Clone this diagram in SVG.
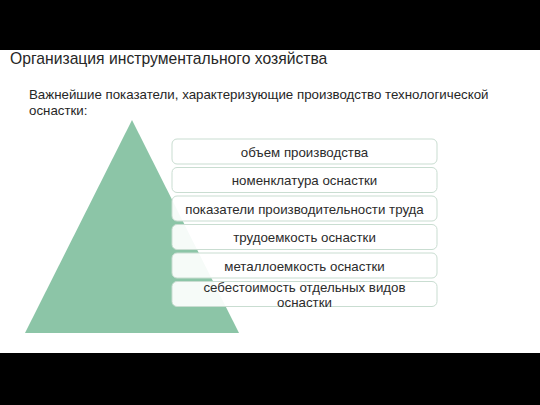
<svg xmlns="http://www.w3.org/2000/svg" width="540" height="405" viewBox="0 0 540 405">
<style>
.t{font-family:"Liberation Sans",Arial,sans-serif;fill:#262626}
.bar rect{fill:#ffffff;fill-opacity:0.92;stroke:#c9ddd1;stroke-width:1}
.bar text{font-family:"Liberation Sans",Arial,sans-serif;font-size:13.3px;fill:#2b2b2b;text-anchor:middle}
</style>
<rect x="0" y="0" width="540" height="405" fill="#ffffff"/>
<rect x="0" y="0" width="540" height="50" fill="#000000"/>
<rect x="0" y="353" width="540" height="52" fill="#000000"/>
<text class="t" x="10" y="64" font-size="15.7">Организация инструментального хозяйства</text>
<text class="t" x="29" y="99" font-size="13.3">Важнейшие показатели, характеризующие производство технологической</text>
<text class="t" x="29" y="115" font-size="13.3">оснастки:</text>
<g id="pyramid"><polygon points="132,120 239,333 25,333" fill="#8cc5a7"/></g>
<g id="bar1" class="bar"><rect x="172" y="139" width="265" height="25" rx="5"/><text x="304.5" y="156.5">объем производства</text></g>
<g id="bar2" class="bar"><rect x="172" y="167.5" width="265" height="25" rx="5"/><text x="304.5" y="185">номенклатура оснастки</text></g>
<g id="bar3" class="bar"><rect x="172" y="196" width="265" height="25" rx="5"/><text x="304.5" y="213.5">показатели производительности труда</text></g>
<g id="bar4" class="bar"><rect x="172" y="224.5" width="265" height="25" rx="5"/><text x="304.5" y="242">трудоемкость оснастки</text></g>
<g id="bar5" class="bar"><rect x="172" y="253" width="265" height="25" rx="5"/><text x="304.5" y="270.5">металлоемкость оснастки</text></g>
<g id="bar6" class="bar"><rect x="172" y="281.5" width="265" height="25" rx="5"/><text x="304.5" y="291.5">себестоимость отдельных видов</text><text x="304.5" y="306.5">оснастки</text></g>
</svg>
